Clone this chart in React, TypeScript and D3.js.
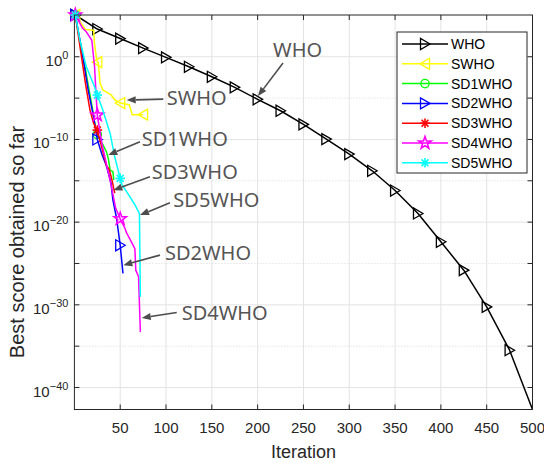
import React from 'react';
import * as d3 from 'd3';

// ---------- data (log10 of best score) ----------
const whoIter = [1, 25, 50, 75, 100, 125, 150, 175, 200, 225, 250, 275, 300, 325, 350, 375, 400, 425, 450, 475, 500];
const whoExp = [5.05, 3.35, 2.2, 1.05, -0.07, -1.21, -2.42, -3.7, -5.15, -6.53, -8.18, -9.96, -11.77, -13.79, -16.18, -18.95, -22.38, -25.81, -30.25, -35.49, -42.66];

const swhoIter = [1, 12, 21, 22, 24, 25, 26, 28, 31, 40, 44, 50, 60, 63, 75];
const swhoExp = [5.05, 3.3, 3.2, 1.5, -0.1, -0.65, -0.7, -3.2, -4.0, -4.6, -5.2, -5.6, -5.8, -7.0, -7.0];

const sd1Iter = [1, 5, 12, 20, 23, 25, 30, 35, 37, 39, 42, 43];
const sd1Exp = [5.05, 2.5, -1.5, -6.5, -8.6, -9.4, -10.4, -11.5, -12.3, -13.7, -13.9, -14.9];

const sd2Iter = [1, 8, 15, 21, 25, 30, 35, 40, 42, 46, 50, 53];
const sd2Exp = [5.05, 0.81, -4.0, -7.3, -10.0, -11.8, -13.2, -15.3, -17.3, -19.5, -22.8, -26.2];

const sd3Iter = [1, 4, 12, 17, 21, 25, 30, 35, 38, 41, 44];
const sd3Exp = [5.05, 2.8, -3.2, -6.45, -8.06, -8.87, -11.0, -13.2, -13.6, -14.9, -16.5];

const sd4Iter = [1, 9, 13, 19, 22, 24, 25, 30, 35, 40, 45, 50, 55, 57, 66, 67, 70, 72];
const sd4Exp = [5.05, 3.44, 3.02, 2.0, -1.2, -5.24, -7.05, -10.5, -13.0, -15.5, -18.3, -19.6, -20.7, -21.3, -23.2, -25.8, -26.6, -33.27];

const sd5Iter = [1, 6, 13, 22, 25, 31, 39, 44, 50, 52, 58, 66, 71, 72];
const sd5Exp = [5.05, 2.0, -1.21, -3.63, -4.63, -6.45, -9.27, -12.1, -14.71, -15.5, -16.5, -17.9, -18.97, -29.04];

const seriesNames = ['WHO', 'SWHO', 'SD1WHO', 'SD2WHO', 'SD3WHO', 'SD4WHO', 'SD5WHO'];
const seriesColors = ['#000000', '#ffff00', '#00ff00', '#0000ff', '#ff0000', '#ff00ff', '#00ffff'];
const seriesMarkers = ['>', '<', 'o', '>', '*', 'p', '*'];
const seriesIters = [whoIter, swhoIter, sd1Iter, sd2Iter, sd3Iter, sd4Iter, sd5Iter];
const seriesExps = [whoExp, swhoExp, sd1Exp, sd2Exp, sd3Exp, sd4Exp, sd5Exp];
const markerStep = 25;

const xTicks = [50, 100, 150, 200, 250, 300, 350, 400, 450, 500];
const yMajorExps = [0, -10, -20, -30, -40];
const yMinorExps = [-5, -15, -25, -35];
const yTickExps = [0, -5, -10, -15, -20, -25, -30, -35, -40];

// annotations: [label, textIter, textExp, tailIter, tailExp, tipIter, tipExp]
const annLabels = ['WHO', 'SWHO', 'SD1WHO', 'SD3WHO', 'SD5WHO', 'SD2WHO', 'SD4WHO'];
const annText = [[216.8, 0.81], [100.7, -5.0], [73.5, -9.96], [84.4, -13.95], [108, -17.34], [98.9, -23.75], [117.1, -30.95]];
const annTail = [[227.7, -0.76], [97, -5.12], [71.6, -10.28], [82.5, -14.52], [104.3, -17.67], [93.4, -23.99], [111.7, -30.93]];
const annTip = [[200.4, -4.75], [57.1, -5.24], [37, -11.89], [42.5, -16.13], [71.6, -19.15], [53.4, -25.2], [73.5, -31.58]];

const AX = 'Liberation Sans, Arial, sans-serif';

function Marker({ type, cx, cy, color }: { type: string; cx: number; cy: number; color: string }) {
  const sw = 1.3;
  if (type === '>' || type === '<') {
    const s = type === '>' ? 1 : -1;
    const pts = [[cx + s * 5, cy], [cx - s * 4.5, cy - 5.5], [cx - s * 4.5, cy + 5.5]];
    return <polygon points={pts.map(p => p.join(',')).join(' ')} fill="none" stroke={color} strokeWidth={sw} />;
  }
  if (type === 'o') return <circle cx={cx} cy={cy} r={4.2} fill="none" stroke={color} strokeWidth={sw} />;
  if (type === '*') {
    const r = 4.8, d = r * 0.72;
    return (
      <g stroke={color} strokeWidth={sw + 0.3}>
        <line x1={cx - r} y1={cy} x2={cx + r} y2={cy} />
        <line x1={cx} y1={cy - r} x2={cx} y2={cy + r} />
        <line x1={cx - d} y1={cy - d} x2={cx + d} y2={cy + d} />
        <line x1={cx - d} y1={cy + d} x2={cx + d} y2={cy - d} />
      </g>
    );
  }
  if (type === 'p') {
    const pts: string[] = [];
    for (let i = 0; i < 10; i++) {
      const r = i % 2 === 0 ? 6.5 : 2.6;
      const a = -Math.PI / 2 + (i * Math.PI) / 5;
      pts.push(`${cx + r * Math.cos(a)},${cy + r * Math.sin(a)}`);
    }
    return <polygon points={pts.join(' ')} fill="none" stroke={color} strokeWidth={1.6} />;
  }
  return null;
}

export default function App() {
  const left = 74.4, right = 532.5, top = 15, bottom = 409.5;
  const x = d3.scaleLinear().domain([0, 500]).range([left, right]);
  const y = d3.scaleLog().domain([Math.pow(10, -42.66), Math.pow(10, 5.05)]).range([bottom, top]);
  const ye = (e: number) => y(Math.pow(10, e));
  const line = d3.line<[number, number]>().x(d => x(d[0])).y(d => ye(d[1]));

  const gridColor = '#e3e3e3';
  const axisColor = '#262626';

  return (
    <svg width={544} height={463} style={{ position: 'absolute', left: 0, top: 0, background: '#fff' }}>
      <rect x={0} y={0} width={544} height={463} fill="#fff" />
      {/* grid */}
      {xTicks.map(t => (
        <line key={'gx' + t} x1={x(t)} x2={x(t)} y1={top} y2={bottom} stroke={gridColor} strokeWidth={1} />
      ))}
      {yMajorExps.map(e => (
        <line key={'gy' + e} x1={left} x2={right} y1={ye(e)} y2={ye(e)} stroke={gridColor} strokeWidth={1} />
      ))}
      {yMinorExps.map(e => (
        <line key={'gm' + e} x1={left} x2={right} y1={ye(e)} y2={ye(e)} stroke="#d8d8d8" strokeWidth={1} strokeDasharray="1,2" />
      ))}

      {/* series */}
      {seriesNames.map((name, si) => {
        const pts: [number, number][] = seriesIters[si].map((it, i) => [it, seriesExps[si][i]]);
        return (
          <g key={name}>
            <path d={line(pts) || ''} fill="none" stroke={seriesColors[si]} strokeWidth={1.5} strokeLinejoin="round" />
            {pts
              .filter(p => (p[0] === 1 || p[0] % markerStep === 0) && p[0] < 500)
              .map(p => (
                <Marker key={name + p[0]} type={seriesMarkers[si]} cx={x(p[0])} cy={ye(p[1])} color={seriesColors[si]} />
              ))}
          </g>
        );
      })}

      {/* axes box */}
      <rect x={left} y={top} width={right - left} height={bottom - top} fill="none" stroke={axisColor} strokeWidth={1} />
      {xTicks.map(t => (
        <g key={'xt' + t} stroke={axisColor}>
          <line x1={x(t)} x2={x(t)} y1={bottom} y2={bottom - 5} />
          <line x1={x(t)} x2={x(t)} y1={top} y2={top + 5} />
        </g>
      ))}
      {yTickExps.map(e => (
        <g key={'yt' + e} stroke={axisColor}>
          <line x1={left} x2={left + 5} y1={ye(e)} y2={ye(e)} />
          <line x1={right} x2={right - 5} y1={ye(e)} y2={ye(e)} />
        </g>
      ))}
      {xTicks.map(t => (
        <text key={'xl' + t} x={x(t)} y={433} textAnchor="middle" fontFamily={AX} fontSize={15} fill={axisColor}>
          {String(t)}
        </text>
      ))}
      {yMajorExps.map(e => (
        <text key={'yl' + e} x={left - 6} y={ye(e) + 9} textAnchor="end" fontFamily={AX} fontSize={15} fill={axisColor}>
          10
          <tspan dy={-7} fontSize={11}>{e === 0 ? '0' : '\u2212' + String(-e)}</tspan>
        </text>
      ))}
      <text x={(left + right) / 2} y={458} textAnchor="middle" fontFamily={AX} fontSize={18} fill={axisColor}>
        Iteration
      </text>
      <text
        transform={`translate(24, 242) rotate(-90)`}
        textAnchor="middle"
        fontFamily={AX}
        fontSize={20}
        fill={axisColor}
      >
        Best score obtained so far
      </text>

      {/* annotations */}
      {annLabels.map((lab, i) => {
        const tx = x(annTail[i][0]), ty = ye(annTail[i][1]);
        const px = x(annTip[i][0]), py = ye(annTip[i][1]);
        const ang = Math.atan2(py - ty, px - tx);
        const L = 9, Wd = 3.6;
        const bx = px - L * Math.cos(ang), by = py - L * Math.sin(ang);
        const p1 = [bx + Wd * Math.sin(ang), by - Wd * Math.cos(ang)];
        const p2 = [bx - Wd * Math.sin(ang), by + Wd * Math.cos(ang)];
        return (
          <g key={'ann' + lab}>
            <line x1={tx} y1={ty} x2={bx} y2={by} stroke="#4d4d4d" strokeWidth={1.6} />
            <polygon points={`${px},${py} ${p1[0]},${p1[1]} ${p2[0]},${p2[1]}`} fill="#4d4d4d" />
            <text
              x={x(annText[i][0])}
              y={ye(annText[i][1])}
              dy="0.36em"
              fontFamily="Noto Sans, Open Sans, sans-serif"
              fontSize={20}
              fill="#555555"
            >
              {lab}
            </text>
          </g>
        );
      })}

      {/* legend */}
      <g>
        <rect x={397} y={32} width={130} height={141} fill="#fff" stroke={axisColor} strokeWidth={1} />
        {seriesNames.map((name, i) => {
          const ly = 44 + i * 19.8;
          return (
            <g key={'lg' + name}>
              <line x1={402} x2={448} y1={ly} y2={ly} stroke={seriesColors[i]} strokeWidth={1.5} />
              <Marker type={seriesMarkers[i]} cx={425} cy={ly} color={seriesColors[i]} />
              <text x={451} y={ly} dy="0.36em" fontFamily={AX} fontSize={14} fill="#000">
                {name}
              </text>
            </g>
          );
        })}
      </g>
    </svg>
  );
}
